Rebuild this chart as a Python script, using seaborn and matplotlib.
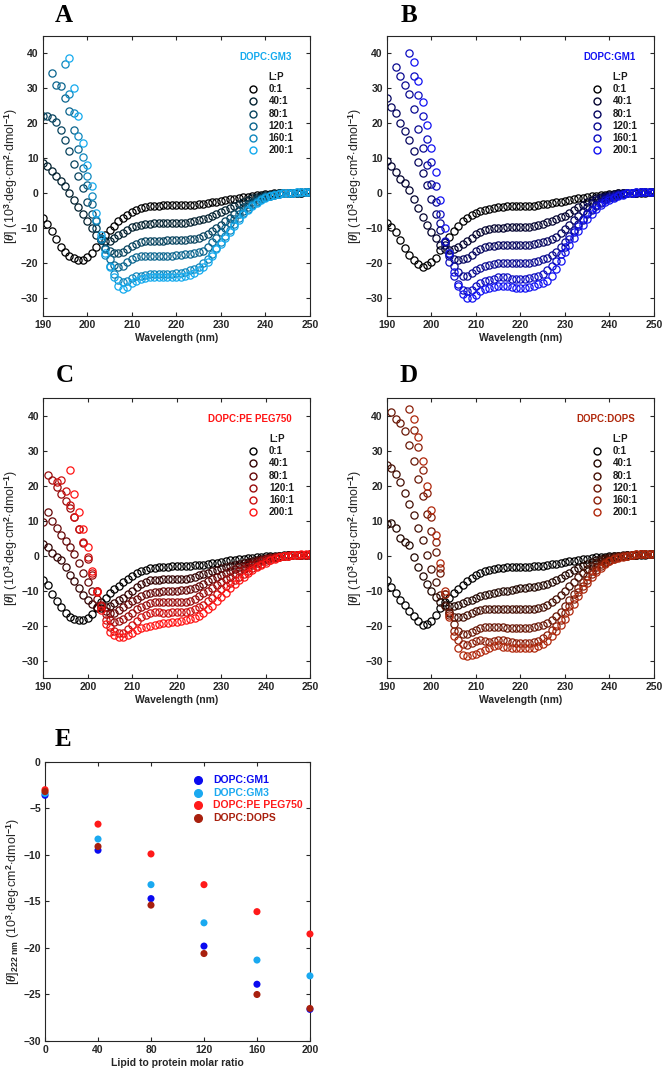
import numpy as np
import pandas as pd
import matplotlib
matplotlib.use('Agg')
import matplotlib.pyplot as plt
import seaborn as sns

nan = np.nan

# wavelength grid (nm), one reading per nm
WAVELENGTH = list(range(190, 251))
RATIO_LABELS = ['0:1', '40:1', '80:1', '120:1', '160:1', '200:1']

# ---- panel A: DOPC:GM3 ----
GM3_0 = [-7.0, -8.8, -10.8, -13.0, -15.2, -16.8, -17.9, -18.5, -19.0, -18.9,
         -18.2, -16.9, -15.2, -13.4, -11.9, -10.5, -9.2, -8.0, -7.0, -6.1,
         -5.3, -4.7, -4.2, -3.9, -3.7, -3.6, -3.5, -3.4, -3.4, -3.4,
         -3.4, -3.4, -3.4, -3.3, -3.2, -3.1, -2.9, -2.7, -2.5, -2.3,
         -2.1, -1.9, -1.7, -1.5, -1.3, -1.1, -0.9, -0.7, -0.5, -0.4,
         -0.2, -0.1, 0.0, 0.0, 0.1, 0.1, 0.2, 0.2, 0.2, 0.3,
         0.3]
GM3_40 = [8.8, 7.8, 6.4, 5.1, 3.6, 2.1, 0.2, -1.8, -3.8, -5.8,
          -8.0, -10.0, -11.8, -13.0, -13.6, -13.5, -12.8, -12.0, -11.2, -10.4,
          -9.7, -9.2, -8.9, -8.7, -8.6, -8.5, -8.5, -8.4, -8.4, -8.3,
          -8.3, -8.3, -8.3, -8.1, -7.9, -7.6, -7.3, -6.9, -6.4, -5.9,
          -5.3, -4.7, -4.1, -3.5, -2.9, -2.3, -1.8, -1.4, -1.0, -0.7,
          -0.5, -0.3, -0.1, 0.0, 0.1, 0.1, 0.2, 0.2, 0.2, 0.3,
          0.3]
GM3_80 = [22.0, 22.0, 21.7, 20.3, 18.0, 15.4, 12.0, 8.5, 5.0, 1.5,
          -2.3, -6.0, -10.0, -13.4, -15.6, -16.5, -17.0, -17.1, -16.6, -15.8,
          -15.0, -14.3, -13.8, -13.6, -13.5, -13.5, -13.5, -13.5, -13.4, -13.4,
          -13.4, -13.3, -13.2, -13.1, -12.9, -12.6, -12.2, -11.6, -10.8, -9.9,
          -9.0, -8.0, -6.9, -5.8, -4.8, -3.8, -3.0, -2.3, -1.7, -1.2,
          -0.8, -0.5, -0.2, 0.0, 0.1, 0.1, 0.2, 0.2, 0.3, 0.3,
          0.3]
GM3_120 = [nan, nan, 34.5, 31.0, 30.6, 27.3, 23.5, 18.0, 12.6, 7.4,
           2.5, -3.0, -8.0, -12.6, -16.0, -18.8, -20.4, -20.9, -20.7, -19.6,
           -18.8, -18.2, -17.9, -17.8, -17.8, -17.8, -17.9, -17.9, -17.8, -17.8,
           -17.7, -17.6, -17.4, -17.3, -17.0, -16.7, -16.3, -15.3, -14.0, -12.6,
           -11.1, -9.8, -8.5, -7.2, -6.0, -4.9, -3.8, -2.9, -2.1, -1.5,
           -1.0, -0.6, -0.3, -0.1, 0.0, 0.1, 0.2, 0.2, 0.3, 0.3,
           0.3]
GM3_160 = [nan, nan, nan, nan, nan, 37.0, 28.5, 23.0, 16.4, 10.5,
           5.0, -0.8, -7.5, -13.0, -17.5, -20.8, -22.9, -24.8, -25.4, -24.9,
           -24.2, -23.7, -23.5, -23.3, -23.0, -22.9, -23.0, -23.1, -23.0, -22.9,
           -22.8, -22.6, -22.4, -22.0, -21.5, -20.9, -20.0, -18.8, -17.3, -15.7,
           -14.0, -12.2, -10.4, -8.7, -7.1, -5.6, -4.3, -3.2, -2.3, -1.6,
           -1.1, -0.7, -0.4, -0.1, 0.0, 0.1, 0.2, 0.3, 0.3, 0.3,
           0.3]
GM3_200 = [nan, nan, nan, nan, nan, nan, 38.8, 30.0, 22.0, 14.5,
           8.0, 2.0, -5.5, -12.0, -17.0, -21.0, -24.0, -26.5, -27.3, -26.8,
           -25.6, -24.9, -24.5, -24.2, -24.0, -23.8, -23.9, -24.0, -24.0, -23.9,
           -23.9, -23.8, -23.7, -23.4, -22.8, -22.0, -21.0, -19.6, -17.8, -16.0,
           -14.5, -12.8, -11.0, -9.2, -7.6, -6.0, -4.7, -3.5, -2.6, -1.8,
           -1.2, -0.8, -0.4, -0.2, 0.0, 0.1, 0.2, 0.3, 0.4, 0.4,
           0.4]

# ---- panel B: DOPC:GM1 ----
GM1_0 = [-8.4, -9.5, -11.0, -13.2, -15.5, -17.5, -18.9, -20.2, -20.9, -20.5,
         -19.6, -18.5, -16.2, -14.0, -12.3, -10.7, -9.2, -8.0, -7.0, -6.2,
         -5.5, -5.0, -4.6, -4.3, -4.1, -3.9, -3.8, -3.7, -3.7, -3.6,
         -3.6, -3.6, -3.6, -3.5, -3.3, -3.1, -2.9, -2.7, -2.5, -2.3,
         -2.1, -1.9, -1.7, -1.4, -1.2, -1.0, -0.8, -0.6, -0.4, -0.3,
         -0.2, -0.1, 0.0, 0.0, 0.1, 0.1, 0.2, 0.2, 0.2, 0.3,
         0.3]
GM1_40 = [9.2, 7.8, 6.0, 4.2, 3.0, 1.0, -1.6, -4.2, -6.8, -9.0,
          -11.0, -12.8, -14.6, -15.8, -16.2, -16.0, -15.3, -14.4, -13.5, -12.6,
          -11.7, -11.0, -10.5, -10.2, -10.0, -9.9, -9.8, -9.7, -9.7, -9.6,
          -9.6, -9.5, -9.5, -9.3, -9.0, -8.6, -8.2, -7.8, -7.3, -6.8,
          -6.3, -5.6, -4.8, -4.0, -3.2, -2.5, -1.8, -1.3, -0.9, -0.6,
          -0.4, -0.2, 0.0, 0.1, 0.1, 0.2, 0.2, 0.3, 0.3, 0.3,
          0.3]
GM1_80 = [27.3, 24.8, 23.0, 20.0, 17.8, 15.2, 12.2, 9.0, 5.8, 2.5,
          -1.5, -6.0, -10.5, -14.6, -17.3, -18.7, -19.0, -18.8, -18.3, -17.5,
          -16.5, -15.8, -15.3, -15.0, -14.9, -14.8, -14.8, -14.8, -14.7, -14.7,
          -14.6, -14.6, -14.6, -14.4, -14.2, -13.9, -13.5, -13.0, -12.3, -11.3,
          -10.2, -9.0, -7.7, -6.3, -5.0, -3.8, -2.8, -2.0, -1.4, -0.9,
          -0.6, -0.3, -0.1, 0.0, 0.1, 0.2, 0.2, 0.3, 0.3, 0.3,
          0.3]
GM1_120 = [nan, nan, 36.0, 33.5, 31.0, 28.5, 24.0, 18.5, 13.0, 8.0,
           2.8, -2.5, -8.5, -14.0, -18.0, -20.8, -22.5, -23.5, -23.5, -22.8,
           -22.0, -21.2, -20.6, -20.3, -20.1, -20.0, -19.9, -19.9, -19.9, -19.9,
           -19.9, -19.8, -19.8, -19.5, -19.2, -18.8, -18.3, -17.6, -16.6, -15.3,
           -13.8, -12.2, -10.5, -8.8, -7.2, -5.6, -4.3, -3.2, -2.3, -1.6,
           -1.1, -0.7, -0.4, -0.1, 0.0, 0.1, 0.2, 0.3, 0.3, 0.3,
           0.3]
GM1_160 = [nan, nan, nan, nan, nan, 40.0, 33.5, 28.0, 22.0, 15.5,
           9.0, 2.0, -6.0, -13.5, -19.5, -23.5, -26.0, -27.5, -28.0, -27.5,
           -26.5, -25.6, -25.0, -24.6, -24.3, -24.0, -23.8, -24.0, -24.3, -24.5,
           -24.5, -24.4, -24.2, -24.0, -23.6, -22.9, -21.9, -20.8, -19.2, -17.3,
           -15.2, -13.0, -11.0, -9.2, -7.6, -6.0, -4.7, -3.7, -2.8, -2.0,
           -1.4, -0.9, -0.5, -0.2, 0.0, 0.2, 0.3, 0.3, 0.4, 0.4,
           0.4]
GM1_200 = [nan, nan, nan, nan, nan, nan, 37.5, 32.0, 26.0, 19.5,
           13.0, 6.0, -2.0, -10.0, -17.0, -22.5, -26.5, -28.8, -29.8, -29.8,
           -29.0, -28.0, -27.3, -27.0, -26.8, -26.5, -26.3, -26.5, -26.8, -27.0,
           -27.0, -26.9, -26.7, -26.3, -25.9, -25.5, -25.0, -23.5, -21.5, -19.2,
           -16.7, -14.7, -12.7, -10.8, -9.0, -7.3, -5.8, -4.5, -3.4, -2.5,
           -1.8, -1.2, -0.7, -0.3, 0.0, 0.2, 0.3, 0.4, 0.4, 0.4,
           0.4]

# ---- panel C: DOPC:PE PEG750 ----
PEG_0 = [-7.0, -8.5, -11.0, -13.0, -14.7, -16.3, -17.5, -18.2, -18.5, -18.4,
         -17.8, -16.8, -15.0, -13.2, -12.0, -10.8, -9.7, -8.7, -7.6, -6.6,
         -5.8, -5.1, -4.5, -4.0, -3.7, -3.5, -3.4, -3.3, -3.2, -3.1,
         -3.1, -3.0, -3.0, -2.9, -2.8, -2.7, -2.6, -2.4, -2.2, -2.0,
         -1.8, -1.6, -1.4, -1.2, -1.0, -0.9, -0.7, -0.6, -0.4, -0.3,
         -0.2, -0.1, 0.0, 0.0, 0.1, 0.1, 0.1, 0.2, 0.2, 0.2,
         0.2]
PEG_40 = [3.4, 2.5, 0.8, -0.4, -1.3, -3.2, -5.5, -7.2, -9.4, -11.2,
          -12.7, -13.8, -14.6, -14.9, -14.8, -14.3, -13.6, -12.8, -12.0, -11.0,
          -10.0, -9.0, -8.2, -7.5, -7.1, -6.9, -6.9, -6.8, -6.8, -6.8,
          -6.7, -6.7, -6.6, -6.4, -6.1, -5.7, -5.3, -4.9, -4.5, -4.1,
          -3.7, -3.4, -3.0, -2.7, -2.4, -2.1, -1.8, -1.5, -1.2, -0.9,
          -0.7, -0.5, -0.3, -0.1, 0.0, 0.1, 0.1, 0.2, 0.2, 0.2,
          0.3]
PEG_80 = [9.7, 12.3, 10.0, 7.8, 5.8, 4.2, 2.3, 0.3, -2.0, -5.0,
          -7.6, -10.0, -12.5, -14.4, -15.8, -16.5, -16.3, -15.6, -14.7, -13.8,
          -13.0, -12.3, -11.6, -11.0, -10.6, -10.4, -10.3, -10.2, -10.1, -10.0,
          -10.0, -9.9, -9.9, -9.6, -9.2, -8.6, -8.0, -7.4, -6.8, -6.2,
          -5.7, -5.1, -4.5, -3.9, -3.4, -2.9, -2.4, -2.0, -1.6, -1.2,
          -0.9, -0.6, -0.4, -0.2, 0.0, 0.1, 0.1, 0.2, 0.2, 0.2,
          0.3]
PEG_120 = [nan, 23.0, 21.5, 19.5, 17.5, 15.5, 13.5, 11.0, 7.5, 3.5,
           -1.0, -5.5, -10.0, -14.0, -16.7, -18.3, -19.0, -18.8, -18.1, -17.2,
           -16.3, -15.4, -14.6, -14.0, -13.6, -13.4, -13.3, -13.3, -13.3, -13.3,
           -13.2, -13.2, -13.2, -12.9, -12.3, -11.5, -10.8, -10.0, -9.2, -8.4,
           -7.6, -6.8, -6.0, -5.2, -4.5, -3.8, -3.2, -2.6, -2.0, -1.5,
           -1.1, -0.8, -0.5, -0.3, -0.1, 0.0, 0.1, 0.1, 0.2, 0.2,
           0.2]
PEG_160 = [nan, nan, nan, 21.0, 21.5, 18.5, 14.5, 11.0, 7.5, 4.0,
           -0.5, -5.0, -10.0, -14.5, -18.5, -20.5, -21.6, -22.2, -22.0, -21.0,
           -19.8, -18.7, -17.7, -16.9, -16.4, -16.2, -16.2, -16.3, -16.3, -16.2,
           -16.2, -16.1, -16.1, -15.8, -15.4, -14.8, -14.0, -13.0, -12.0, -10.9,
           -9.7, -8.7, -7.8, -6.9, -6.1, -5.3, -4.5, -3.7, -3.0, -2.3,
           -1.7, -1.2, -0.8, -0.5, -0.2, 0.0, 0.1, 0.2, 0.2, 0.2,
           0.3]
PEG_200 = [nan, nan, nan, nan, nan, nan, 24.3, 17.5, 12.5, 7.7,
           2.3, -4.3, -10.4, -15.6, -19.5, -21.8, -22.8, -23.3, -23.4, -22.8,
           -22.0, -21.3, -20.8, -20.4, -20.1, -19.8, -19.6, -19.4, -19.2, -19.0,
           -18.9, -18.7, -18.5, -18.2, -17.8, -17.2, -16.4, -15.4, -14.3, -13.1,
           -11.9, -10.6, -9.4, -8.2, -7.1, -6.1, -5.1, -4.2, -3.4, -2.6,
           -2.0, -1.4, -0.9, -0.5, -0.2, 0.0, 0.1, 0.2, 0.3, 0.3,
           0.3]

# ---- panel D: DOPC:DOPS ----
DOPS_0 = [-7.0, -9.0, -10.8, -12.8, -14.2, -15.8, -17.3, -18.8, -19.8, -19.6,
          -18.6, -17.0, -15.1, -13.4, -12.0, -10.7, -9.5, -8.3, -7.2, -6.3,
          -5.6, -5.0, -4.5, -4.1, -3.8, -3.6, -3.5, -3.4, -3.3, -3.3,
          -3.2, -3.2, -3.2, -3.1, -3.0, -2.9, -2.7, -2.5, -2.3, -2.1,
          -1.9, -1.7, -1.5, -1.3, -1.1, -0.9, -0.7, -0.5, -0.4, -0.3,
          -0.2, -0.1, 0.0, 0.0, 0.1, 0.1, 0.2, 0.2, 0.2, 0.3,
          0.3]
DOPS_40 = [9.1, 9.3, 7.8, 5.0, 4.0, 3.0, -0.5, -3.3, -5.8, -8.2,
           -10.0, -11.8, -13.2, -14.0, -14.3, -14.3, -14.0, -13.6, -13.1, -12.6,
           -12.1, -11.7, -11.3, -11.0, -10.7, -10.4, -10.2, -10.0, -9.8, -9.6,
           -9.4, -9.3, -9.1, -9.0, -8.8, -8.5, -8.1, -7.6, -7.0, -6.3,
           -5.6, -4.9, -4.2, -3.5, -2.9, -2.3, -1.8, -1.3, -0.9, -0.6,
           -0.4, -0.2, 0.0, 0.1, 0.1, 0.2, 0.2, 0.3, 0.3, 0.3,
           0.3]
DOPS_80 = [25.8, 25.0, 23.3, 21.0, 17.8, 14.8, 11.5, 7.8, 4.5, 0.1,
           -3.8, -7.5, -11.3, -14.5, -16.5, -17.5, -17.7, -17.5, -17.0, -16.4,
           -15.9, -15.6, -15.4, -15.3, -15.3, -15.3, -15.4, -15.4, -15.4, -15.4,
           -15.4, -15.4, -15.4, -15.2, -15.0, -14.6, -14.0, -13.3, -12.4, -11.3,
           -10.1, -8.8, -7.5, -6.2, -5.0, -3.9, -2.9, -2.1, -1.5, -1.0,
           -0.6, -0.3, -0.1, 0.0, 0.1, 0.2, 0.2, 0.3, 0.3, 0.3,
           0.3]
DOPS_120 = [nan, 41.0, 39.0, 38.0, 35.5, 31.5, 27.0, 22.0, 17.0, 12.0,
            7.0, 1.0, -5.0, -11.0, -16.0, -19.5, -21.5, -22.5, -22.5, -21.9,
            -21.2, -20.7, -20.4, -20.3, -20.3, -20.4, -20.5, -20.6, -20.6, -20.6,
            -20.6, -20.6, -20.6, -20.5, -20.2, -19.8, -19.2, -18.4, -17.3, -16.0,
            -14.5, -12.8, -11.0, -9.2, -7.5, -5.9, -4.5, -3.4, -2.5, -1.8,
            -1.2, -0.7, -0.4, -0.1, 0.0, 0.1, 0.2, 0.3, 0.3, 0.3,
            0.3]
DOPS_160 = [nan, nan, nan, nan, nan, 42.0, 36.0, 31.0, 24.5, 18.0,
            11.0, 4.0, -3.5, -11.0, -17.0, -21.5, -24.0, -25.3, -25.5, -25.0,
            -24.5, -24.2, -24.5, -24.6, -24.4, -24.0, -24.2, -24.5, -24.8, -24.9,
            -25.0, -25.0, -25.0, -24.8, -24.3, -23.6, -22.6, -21.4, -20.0, -18.3,
            -16.5, -14.5, -12.5, -10.5, -8.6, -6.9, -5.4, -4.1, -3.0, -2.1,
            -1.5, -0.9, -0.5, -0.2, 0.0, 0.2, 0.3, 0.3, 0.4, 0.4,
            0.4]
DOPS_200 = [nan, nan, nan, nan, nan, nan, 39.0, 34.0, 27.0, 20.0,
            13.0, 6.0, -2.0, -10.0, -17.5, -23.0, -26.5, -28.3, -28.8, -28.5,
            -28.0, -27.5, -27.0, -26.3, -25.8, -25.7, -26.0, -26.2, -26.3, -26.4,
            -26.5, -26.5, -26.5, -26.3, -25.9, -25.2, -24.3, -23.1, -21.6, -19.9,
            -18.0, -15.9, -13.8, -11.7, -9.7, -7.8, -6.2, -4.7, -3.5, -2.5,
            -1.7, -1.1, -0.6, -0.3, 0.0, 0.2, 0.3, 0.4, 0.4, 0.4,
            0.4]

# ---- panel E: [theta] at 222 nm vs L:P ----
LP_RATIO = [0, 40, 80, 120, 160, 200]
E_GM1 = [-3.6, -9.5, -14.7, -19.8, -23.9, -26.6]
E_GM3 = [-3.4, -8.3, -13.2, -17.3, -21.3, -23.0]
E_PEG = [-3.0, -6.7, -9.9, -13.2, -16.1, -18.5]
E_DOPS = [-3.2, -9.1, -15.4, -20.6, -25.0, -26.5]

C_GM3 = '#14AAEE'
C_GM1 = '#1212F2'
C_PEG = '#FF1414'
C_DOPS = '#B0280C'
AX_COL = '#262626'

sns.set_theme(style='ticks')
plt.rcParams['font.family'] = ['Liberation Sans', 'DejaVu Sans']
plt.rcParams['font.weight'] = 'bold'
plt.rcParams['mathtext.fontset'] = 'custom'
plt.rcParams['mathtext.rm'] = 'Liberation Sans'
plt.rcParams['mathtext.it'] = 'Liberation Serif:italic'

YLAB = r'[$\mathit{\theta}$] (10$^{3}$$\cdot$deg$\cdot$cm$^{2}$$\cdot$dmol$^{-1}$)'


def style_axes(ax):
    for sp in ax.spines.values():
        sp.set_visible(True)
        sp.set_linewidth(0.8)
        sp.set_color(AX_COL)
    ax.tick_params(direction='in', top=True, right=True, length=3, width=0.8,
                   labelsize=7.5, colors=AX_COL, pad=3)


def draw_cd(ax, curves, end_color, name):
    pal = sns.blend_palette(['#000000', end_color], n_colors=6)
    for vals, c in zip(curves, pal):
        sns.lineplot(x=WAVELENGTH, y=vals, ax=ax, color=c, marker='o', linestyle='',
                     markerfacecolor='none', markeredgecolor=c, markeredgewidth=0.9,
                     markersize=5.2, estimator=None)
    ax.set_xlim(190, 250)
    ax.set_ylim(-35, 45)
    ax.set_xticks(range(190, 251, 10))
    ax.set_yticks(range(-30, 41, 10))
    ax.set_xlabel('Wavelength (nm)', fontsize=7.5, fontweight='bold', labelpad=2)
    ax.set_ylabel(YLAB, fontsize=9, fontweight='normal', labelpad=1)
    style_axes(ax)
    # legend block
    ax.text(0.93, 0.924, name, transform=ax.transAxes, ha='right', va='center',
            color=end_color, fontsize=7, fontweight='bold')
    ax.text(0.845, 0.855, 'L:P', transform=ax.transAxes, ha='left', va='center',
            color='#1a1a1a', fontsize=7, fontweight='bold')
    for i, (lab, c) in enumerate(zip(RATIO_LABELS, pal)):
        yy = 0.810 - i * 0.0435
        ax.plot([0.785], [yy], transform=ax.transAxes, marker='o', linestyle='',
                markerfacecolor='none', markeredgecolor=c, markeredgewidth=1.0, markersize=5)
        ax.text(0.845, yy, lab, transform=ax.transAxes, ha='left', va='center',
                color='#1a1a1a', fontsize=7, fontweight='bold')


fig = plt.figure(figsize=(6.64, 10.74), dpi=100)
axA = fig.add_axes([0.0643, 0.7058, 0.4026, 0.2607])
axB = fig.add_axes([0.5828, 0.7058, 0.4021, 0.2607])
axC = fig.add_axes([0.0652, 0.3687, 0.4021, 0.2607])
axD = fig.add_axes([0.5828, 0.3687, 0.4021, 0.2607])
axE = fig.add_axes([0.0678, 0.0307, 0.3990, 0.2600])

draw_cd(axA, [GM3_0, GM3_40, GM3_80, GM3_120, GM3_160, GM3_200], C_GM3, 'DOPC:GM3')
draw_cd(axB, [GM1_0, GM1_40, GM1_80, GM1_120, GM1_160, GM1_200], C_GM1, 'DOPC:GM1')
draw_cd(axC, [PEG_0, PEG_40, PEG_80, PEG_120, PEG_160, PEG_200], C_PEG, 'DOPC:PE PEG750')
draw_cd(axD, [DOPS_0, DOPS_40, DOPS_80, DOPS_120, DOPS_160, DOPS_200], C_DOPS, 'DOPC:DOPS')

# panel E
e_names = ['DOPC:GM1', 'DOPC:GM3', 'DOPC:PE PEG750', 'DOPC:DOPS']
e_vals = [E_GM1, E_GM3, E_PEG, E_DOPS]
e_cols = ['#0A0AF0', '#1AA9F0', '#FF1A1A', '#A8200E']
df = pd.DataFrame({
    'ratio': LP_RATIO * 4,
    'theta': [v for vals in e_vals for v in vals],
    'system': [n for n in e_names for _ in LP_RATIO],
})
sns.scatterplot(data=df, x='ratio', y='theta', hue='system', palette=dict(zip(e_names, e_cols)),
                s=26, linewidth=0, ax=axE, legend=False, clip_on=False, zorder=3)
axE.set_xlim(0, 200)
axE.set_ylim(-30, 0)
axE.set_xticks(LP_RATIO)
axE.set_yticks(range(-30, 1, 5))
axE.set_xlabel('Lipid to protein molar ratio', fontsize=7.5, fontweight='bold', labelpad=2)
axE.set_ylabel(r'[$\mathit{\theta}$]$_{222\ \mathrm{nm}}$ (10$^{3}$$\cdot$deg$\cdot$cm$^{2}$$\cdot$dmol$^{-1}$)',
               fontsize=9, fontweight='normal', labelpad=1)
style_axes(axE)
for i, (n, c) in enumerate(zip(e_names, e_cols)):
    yy = 0.934 - i * 0.045
    axE.plot([0.577], [yy], transform=axE.transAxes, marker='o', linestyle='',
             markerfacecolor=c, markeredgecolor=c, markersize=5.5)
    axE.text(0.634, yy, n, transform=axE.transAxes, ha='left', va='center',
             color=c, fontsize=7.5, fontweight='bold')

# panel letters
for letter, (px, py) in zip('ABCDE', [(64, 15), (409, 15), (65, 375), (409, 375), (63, 739)]):
    fig.text(px / 664, 1 - py / 1074, letter, ha='center', va='center', fontsize=18,
             fontweight='bold', family='Liberation Serif', color='black')

fig.savefig('out.png', dpi=100)
